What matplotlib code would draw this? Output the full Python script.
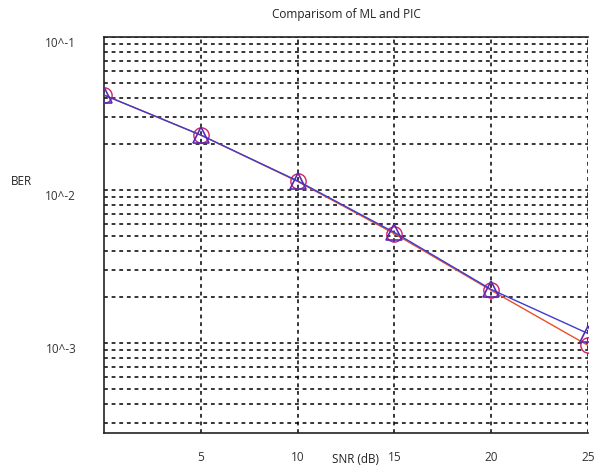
import matplotlib.pyplot as plt
from matplotlib.ticker import FixedLocator, LogLocator, NullFormatter

plt.rcParams['font.family'] = ['Open Sans', 'DejaVu Sans']

# Dados
snr = [0, 5, 10, 15, 20, 25]
ber_ml = [0.0418, 0.0229, 0.0115, 0.0053, 0.00225, 0.00116]
ber_pic = [0.0418, 0.0229, 0.0114, 0.0052, 0.00222, 0.00097]
x_ticks = [5, 10, 15, 20, 25]
y_ticks = [1e-1, 1e-2, 1e-3]
y_tick_labels = ['10^-1', '10^-2', '10^-3']

fig = plt.figure(figsize=(5.96, 4.67), dpi=100)
ax = fig.add_axes([104 / 596, 1 - 433 / 467, 484 / 596, 396 / 467])

ax.plot(snr, ber_pic, color='#e8502a', linewidth=1.0, marker='o', markersize=11,
        markerfacecolor='none', markeredgecolor='#d0206a', markeredgewidth=1.0, zorder=3)
ax.plot(snr, ber_ml, color='#3c3cd0', linewidth=1.0, marker='^', markersize=12,
        markerfacecolor='none', markeredgecolor='#5a2ab0', markeredgewidth=1.2, zorder=4)

ax.set_yscale('log')
ax.set_xlim(0, 25)
ax.set_ylim(2.6e-4, 1e-1)

ax.xaxis.set_major_locator(FixedLocator(x_ticks))
ax.set_xticklabels([str(t) for t in x_ticks])
ax.yaxis.set_major_locator(FixedLocator(y_ticks))
ax.set_yticklabels(y_tick_labels, va='top')
ax.yaxis.set_minor_locator(LogLocator(base=10, subs=range(2, 10)))
ax.yaxis.set_minor_formatter(NullFormatter())

ax.tick_params(axis='both', which='both', length=0, labelsize=8.5, colors='#333333')
ax.tick_params(axis='x', pad=13)
ax.tick_params(axis='y', pad=20)

grid_style = dict(color='black', linestyle=(0, (2.5, 2.5)), linewidth=1.1)
ax.grid(True, which='major', axis='both', **grid_style)
ax.grid(True, which='minor', axis='y', **grid_style)

ax.spines['right'].set_visible(False)
for s in ['left', 'bottom', 'top']:
    ax.spines[s].set_linewidth(1.2)
    ax.spines[s].set_color('#222222')

ax.set_title('Comparisom of ML and PIC', fontsize=8.5, pad=14, color='#222222')
ax.set_xlabel('SNR (dB)', fontsize=8.5, color='#222222', va='center')
ax.xaxis.set_label_coords(0.52, -0.068)
ax.set_ylabel('BER', fontsize=8.5, rotation=0, color='#222222', va='center')
ax.yaxis.set_label_coords(-0.17, 0.635)

plt.savefig('out.png', dpi=100)
